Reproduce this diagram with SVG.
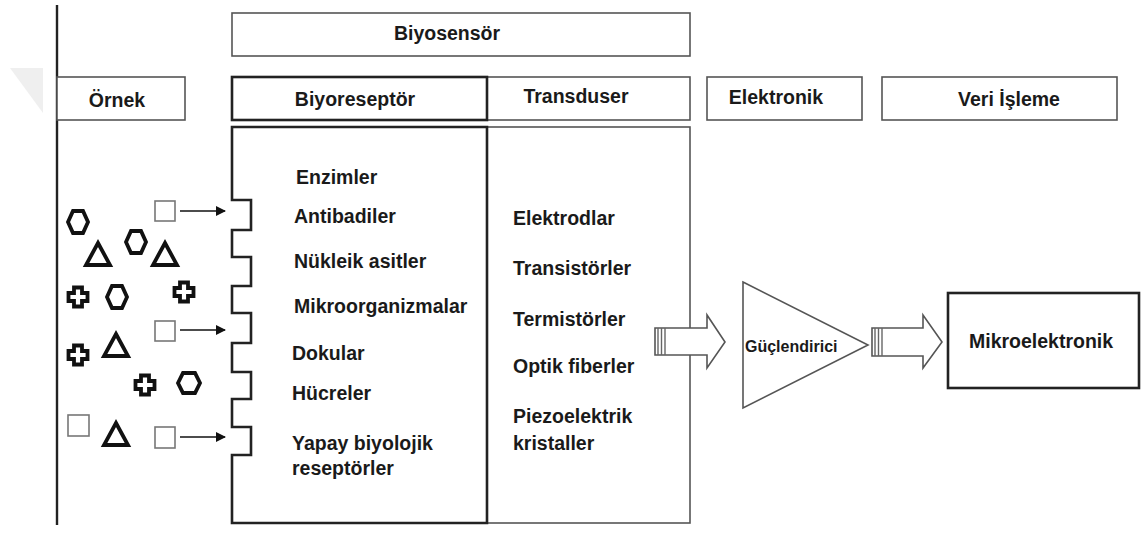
<svg xmlns="http://www.w3.org/2000/svg" width="1142" height="533" viewBox="0 0 1142 533">
<defs>
<style>
.t{font-family:"Liberation Sans",Arial,sans-serif;font-weight:bold;font-size:19.5px;fill:#1a1a1a}
.hdr{fill:#fff;stroke:#555;stroke-width:1.6}
.thick{fill:#fff;stroke:#222;stroke-width:2.6}
.sym{fill:#fff;stroke:#111;stroke-width:3.8;stroke-linejoin:miter}
.sq{fill:#fff;stroke:#777;stroke-width:1.6}
.ln{stroke:#111;stroke-width:1.6;fill:none}
.hol{fill:#fff;stroke:#555;stroke-width:1.6;stroke-linejoin:miter}
.stripe{stroke:#666;stroke-width:1.4}
</style>
<marker id="ah" markerWidth="10" markerHeight="10" refX="9" refY="5" orient="auto" markerUnits="userSpaceOnUse" viewBox="0 0 10 10">
<path d="M0,0 L10,5 L0,10 Z" fill="#111"/>
</marker>
<polygon id="hexv" points="-10,0 -5,-11 5,-11 10,0 5,11 -5,11"/>
<polygon id="hexh" points="-11,0 -6,-10 6,-10 11,0 6,10 -6,10"/>
<polygon id="tri" points="0,-11 12,11 -12,11"/>
<polygon id="cross" points="-4,-9.5 4,-9.5 4,-4 9.5,-4 9.5,4 4,4 4,9.5 -4,9.5 -4,4 -9.5,4 -9.5,-4 -4,-4"/>
</defs>
<rect width="1142" height="533" fill="#fff"/>
<polygon points="10,68 43,68 43,113" fill="#efefef"/>
<line x1="57" y1="5" x2="57" y2="525" stroke="#222" stroke-width="2.4"/>

<g id="biyosensor">
<rect class="hdr" x="232" y="13" width="458" height="43"/>
<text class="t" x="447" y="40" text-anchor="middle">Biyosensör</text>
</g>
<g id="ornek">
<rect class="hdr" x="57" y="77" width="128" height="43"/>
<text class="t" x="117" y="107" text-anchor="middle">Örnek</text>
</g>
<g id="transduser-header">
<rect class="hdr" x="487" y="77" width="203" height="43"/>
<text class="t" x="576" y="103" text-anchor="middle">Transduser</text>
</g>
<g id="biyoreseptor-header">
<rect class="thick" x="232" y="77" width="255" height="43"/>
<text class="t" x="355" y="106" text-anchor="middle">Biyoreseptör</text>
</g>
<g id="elektronik">
<rect class="hdr" x="707" y="77" width="155" height="43"/>
<text class="t" x="776" y="104" text-anchor="middle">Elektronik</text>
</g>
<g id="veri-isleme">
<rect class="hdr" x="882" y="77" width="235" height="43"/>
<text class="t" x="1009" y="106" text-anchor="middle">Veri İşleme</text>
</g>

<g id="transduser-body">
<rect class="hdr" x="487" y="127" width="203" height="396"/>
<text class="t" x="513" y="225">Elektrodlar</text>
<text class="t" x="513" y="275">Transistörler</text>
<text class="t" x="513" y="326">Termistörler</text>
<text class="t" x="513" y="373">Optik fiberler</text>
<text class="t" x="513" y="423">Piezoelektrik</text>
<text class="t" x="513" y="450">kristaller</text>
</g>
<g id="biyoreseptor-body">
<path class="thick" d="M232,127 H487 V523 H232 V455 H251 V427 H232 V399 H251 V372 H232 V343 H251 V313 H232 V286 H251 V257 H232 V230 H251 V200 H232 Z"/>
<text class="t" x="296" y="184">Enzimler</text>
<text class="t" x="294" y="223">Antibadiler</text>
<text class="t" x="294" y="268">Nükleik asitler</text>
<text class="t" x="294" y="313">Mikroorganizmalar</text>
<text class="t" x="292" y="360">Dokular</text>
<text class="t" x="292" y="400">Hücreler</text>
<text class="t" x="292" y="450">Yapay biyolojik</text>
<text class="t" x="292" y="475">reseptörler</text>
</g>

<g id="ornek-shapes">
<use href="#hexv" class="sym" x="78" y="222"/>
<use href="#tri" class="sym" x="98" y="254"/>
<use href="#hexv" class="sym" x="136" y="242"/>
<use href="#tri" class="sym" x="165" y="254"/>
<use href="#cross" class="sym" x="78" y="297"/>
<use href="#hexv" class="sym" x="117" y="297"/>
<use href="#cross" class="sym" x="184" y="292"/>
<use href="#cross" class="sym" x="78" y="355"/>
<use href="#tri" class="sym" x="116" y="345"/>
<use href="#cross" class="sym" x="145" y="385"/>
<use href="#hexh" class="sym" x="189" y="383"/>
<use href="#tri" class="sym" x="116" y="434"/>
<rect class="sq" x="68" y="415" width="21" height="21"/>
<rect class="sq" x="155" y="201" width="20" height="20"/>
<rect class="sq" x="155" y="321" width="20" height="20"/>
<rect class="sq" x="155" y="427" width="20" height="21"/>
</g>

<g id="amplifier">
<polygon class="hol" points="743,282 868,345 743,408"/>
<text class="t" x="745" y="352" style="font-size:16px">Güçlendirici</text>
</g>
<g id="mikroelektronik">
<rect x="948" y="293" width="191" height="95" fill="#fff" stroke="#222" stroke-width="2.6"/>
<text class="t" x="969" y="348">Mikroelektronik</text>
</g>

<g id="connectors">
<line class="ln" x1="180" y1="211" x2="225" y2="211" marker-end="url(#ah)"/>
<line class="ln" x1="180" y1="330" x2="225" y2="330" marker-end="url(#ah)"/>
<line class="ln" x1="180" y1="437" x2="225" y2="437" marker-end="url(#ah)"/>
<polygon class="hol" points="655,328 707,328 707,315 725,342 707,368 707,355 655,355"/>
<line class="stripe" x1="658" y1="328" x2="658" y2="355"/>
<line class="stripe" x1="661.5" y1="328" x2="661.5" y2="355"/>
<line class="stripe" x1="665" y1="328" x2="665" y2="355"/>
<polygon class="hol" points="872,328 923,328 923,315 942,342 923,368 923,356 872,356"/>
<line class="stripe" x1="875" y1="328" x2="875" y2="356"/>
<line class="stripe" x1="878.5" y1="328" x2="878.5" y2="356"/>
<line class="stripe" x1="882" y1="328" x2="882" y2="356"/>
</g>
</svg>
